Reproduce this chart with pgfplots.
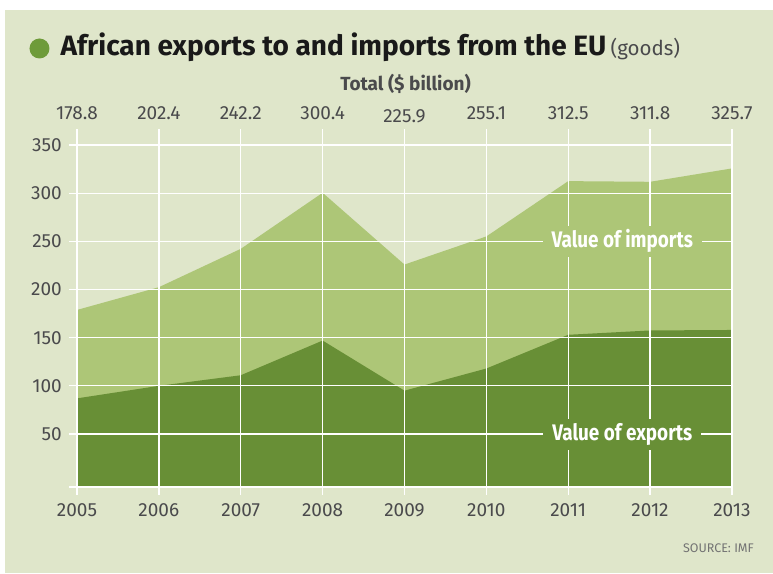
\documentclass[border=0pt]{standalone}
\usepackage{pgfplots}
\pgfplotsset{compat=1.18}
\usepackage{fontspec}
\setmainfont{Fira Sans}
\newfontfamily\cond[FakeStretch=0.84]{Fira Sans}
\definecolor{bg}{HTML}{DFE6CA}
\definecolor{imp}{HTML}{ADC677}
\definecolor{exp}{HTML}{688F36}
\definecolor{dot}{HTML}{6E9B3A}
\definecolor{txt}{HTML}{4A4A4C}
\tikzset{toplab/.style={text=txt, font=\fontsize{19}{19}\selectfont, yshift=31.5pt}}
\begin{document}
\begin{tikzpicture}
% page and panel (1pt = 1px of the reference)
\path[use as bounding box, fill=white] (-77pt,-86pt) rectangle (696pt,487pt);
\fill[bg] (-72pt,-86pt) rectangle (696pt,477pt);
\begin{axis}[
  scale only axis, width=655pt, height=342pt,
  xmin=2005, xmax=2013, ymin=-5, ymax=350,
  clip=false, axis line style={draw=none}, major tick length=0pt,
  xtick={2005,...,2013},
  xticklabels={2005,2006,2007,2008,2009,2010,2011,2012,2013},
  ytick={50,100,...,350},
  /pgf/number format/assume math mode=true,
  tick label style={font=\fontsize{19}{19}\selectfont, text=txt},
  xticklabel style={anchor=center, yshift=-23pt},
  yticklabel style={anchor=east, inner sep=0pt, xshift=-15pt},
]
% total (exports + imports)
\addplot[fill=imp, draw=none] coordinates
  {(2005,-5) (2005,178.8) (2006,202.4) (2007,242.2) (2008,300.4) (2009,225.9)
   (2010,255.1) (2011,312.5) (2012,311.8) (2013,325.7) (2013,-5)} -- cycle;
% exports
\addplot[fill=exp, draw=none] coordinates
  {(2005,-5) (2005,87) (2006,100) (2007,111) (2008,147) (2009,95)
   (2010,118) (2011,153) (2012,157.5) (2013,158) (2013,-5)} -- cycle;
% grid on top of the areas
\pgfplotsinvokeforeach{2005,2006,...,2013}{
  \draw[white, line width=1.3pt] (axis cs:#1,-13.5) -- (axis cs:#1,367);}
\pgfplotsinvokeforeach{-5,50,100,...,350}{
  \draw[white, line width=1.3pt] (axis cs:2004.906,#1) -- (axis cs:2013,#1);}
% series labels
\node[fill=imp, text=white, inner xsep=9pt, minimum height=31pt,
  font=\cond\bfseries\fontsize{22.5}{22.5}\selectfont]
  at (axis cs:2011.66,250) {Value of imports};
\node[fill=exp, text=white, inner xsep=9pt, minimum height=31pt,
  font=\cond\bfseries\fontsize{22.5}{22.5}\selectfont]
  at (axis cs:2011.66,50) {Value of exports};
% totals along the top
\node[toplab] at (axis cs:2005,350) {178.8};
\node[toplab] at (axis cs:2006,350) {202.4};
\node[toplab] at (axis cs:2007,350) {242.2};
\node[toplab] at (axis cs:2008,350) {300.4};
\node[toplab, yshift=-3pt] at (axis cs:2009,350) {225.9};
\node[toplab] at (axis cs:2010,350) {255.1};
\node[toplab] at (axis cs:2011,350) {312.5};
\node[toplab] at (axis cs:2012,350) {311.8};
\node[toplab] at (axis cs:2013,350) {325.7};
\end{axis}
% title and notes
\fill[dot] (-37.5pt,438.5pt) circle (10pt);
\node[anchor=base west, inner sep=0pt, text=black!90]
  at (-16.5pt,431pt) {{\bfseries\fontsize{28}{28}\selectfont African exports to and imports from the EU}\,
  {\fontsize{20.5}{20.5}\selectfont\color{txt}(goods)}};
\node[anchor=base, inner sep=0pt, text=txt, font=\bfseries\fontsize{19}{19}\selectfont]
  at (328.5pt,396.5pt) {Total (\$ billion)};
\node[anchor=east, inner sep=0pt, text=black!55, font=\fontsize{12.5}{12.5}\selectfont]
  at (677pt,-61pt) {SOURCE: IMF};
\end{tikzpicture}
\end{document}
